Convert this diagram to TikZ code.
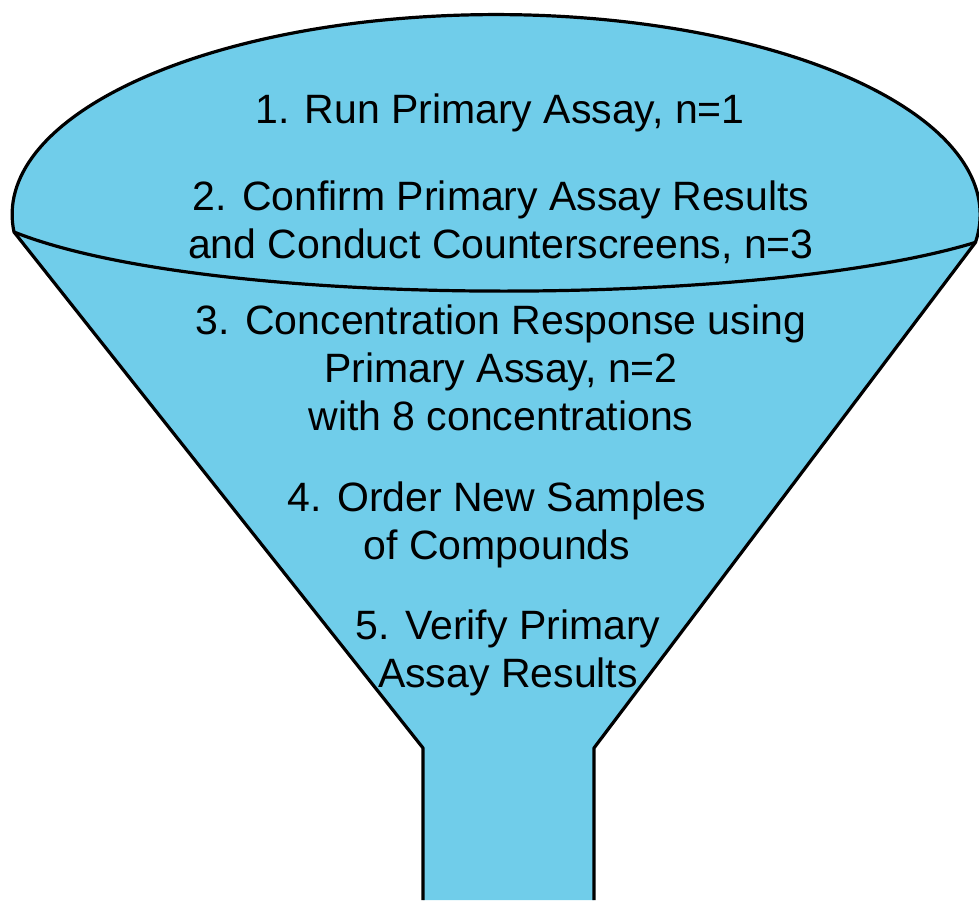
\documentclass[tikz,border=0pt]{standalone}
\usepackage{fontspec}
\setmainfont{Liberation Sans}
\definecolor{funnelblue}{RGB}{112,205,234}
\tikzstyle{rim} = [line width=3.2pt, line join=round]
\tikzstyle{steptext} = [align=center, inner sep=0pt, anchor=base, font=\fontsize{41}{48}\selectfont]

\begin{document}
\begin{tikzpicture}[x=1pt,y=-1pt]
\useasboundingbox (0,0) rectangle (979,900);
\coordinate (lipL) at (14,232);
\coordinate (neckL) at (423,748);
\coordinate (neckR) at (594,748);
% funnel body, open at the bottom
\fill[funnelblue] (423,900) -- (neckL) -- (lipL)
  arc[start angle=175, end angle=368, x radius=484, y radius=200] coordinate (lipR)
  -- (neckR) -- (594,900) -- cycle;
\draw[rim] (423,900) -- (neckL) -- (lipL)
  arc[start angle=175, end angle=368, x radius=484, y radius=200]
  -- (neckR) -- (594,900);
% front edge of the mouth
\draw[rim] (lipL) .. controls (210,310) and (760,308) .. (lipR);

% base anchor sits on the last line of each label
\node[steptext] (step1) at (500,123) {1. Run Primary Assay, n=1};
\node[steptext] (step2) at (501,258) {2. Confirm Primary Assay Results\\and Conduct Counterscreens, n=3};
\node[steptext] (step3) at (501,430) {3. Concentration Response using\\Primary Assay, n=2\\with 8 concentrations};
\node[steptext] (step4) at (497,559) {4. Order New Samples\\of Compounds};
\node[steptext] (step5) at (508,687) {5. Verify Primary\\Assay Results};
\end{tikzpicture}
\end{document}
